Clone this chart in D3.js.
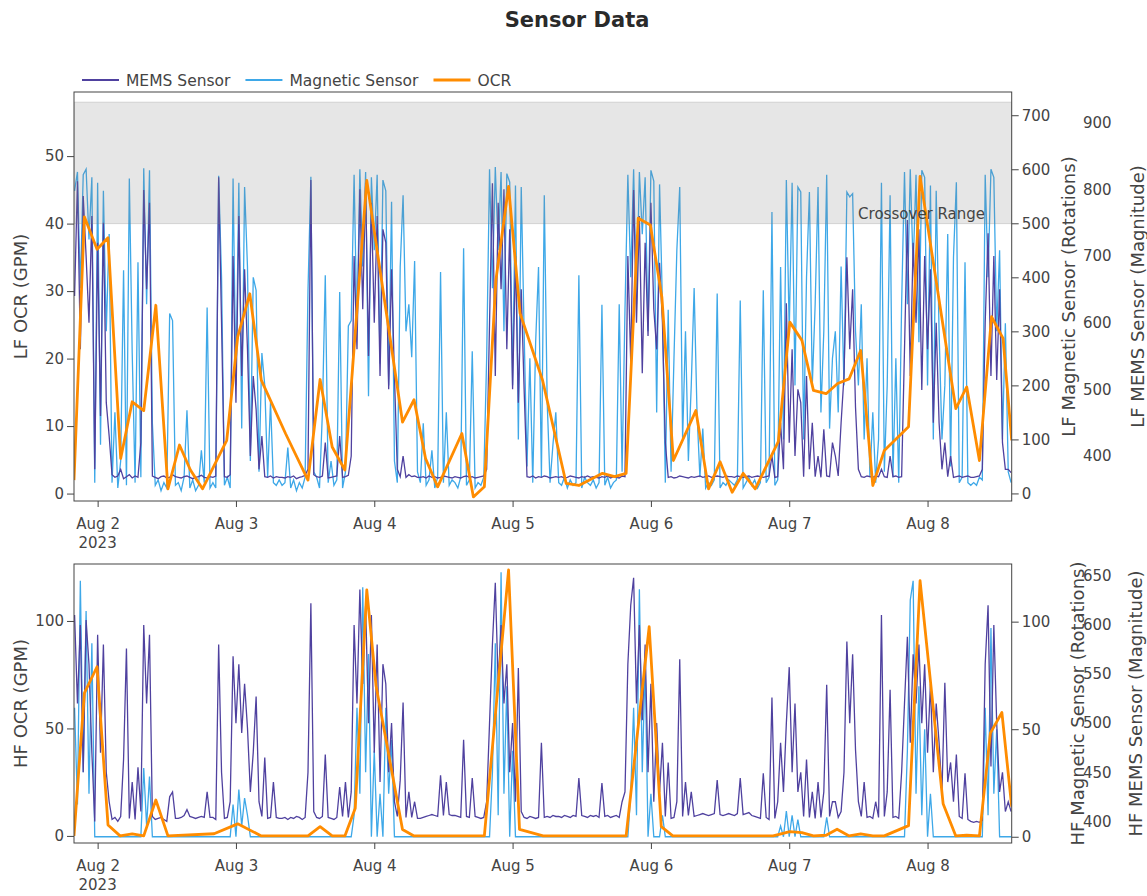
<!DOCTYPE html>
<html>
<head>
<meta charset="utf-8">
<script src="https://cdn.jsdelivr.net/npm/d3@7"></script>
<style>
  body { margin: 0; background: #fff; font-family: "DejaVu Sans", Verdana, sans-serif; }
  text { font-family: "DejaVu Sans", Verdana, sans-serif; }
</style>
</head>
<body>
<svg id="chart" width="1147" height="896"></svg>
<script>
// Sensor samples: every half hour, starting 4 h before Aug 2 00:00
const sensorStartHour = -4;
const sensorStepHours = 0.5;

const lfMagnetic = [
  560,595,380,590,600,470,585,20,575,90,560,300,
  480,20,150,10,60,413,15,583,260,20,428,30,
  602,350,598,130,15,25,5,20,10,333,320,15,
  20,5,30,154,10,25,5,15,80,20,344,10,
  20,10,588,400,15,30,10,583,200,575,120,567,
  419,60,400,376,40,260,200,30,170,20,15,25,
  15,20,85,10,25,5,20,10,30,376,586,40,
  30,10,150,404,20,60,15,25,373,10,40,310,
  320,590,300,600,420,595,180,585,450,590,240,580,
  560,200,540,60,20,419,552,300,350,252,430,40,
  20,130,15,25,80,10,30,410,20,150,15,25,
  20,10,30,454,15,25,263,10,20,15,30,250,
  600,380,604,450,595,300,592,576,200,570,100,567,
  300,50,250,20,280,419,30,552,170,20,90,150,
  20,15,30,10,25,15,20,404,10,30,20,15,
  25,10,20,349,15,30,10,20,25,350,40,340,
  590,400,600,350,595,480,585,300,598,578,150,572,
  350,20,340,40,250,450,567,100,300,60,200,380,
  150,30,120,10,20,15,25,370,10,20,15,25,
  20,15,25,357,10,20,30,15,25,10,20,376,
  20,30,521,15,25,419,100,580,300,575,200,567,
  558,100,400,558,200,350,567,150,300,590,120,250,
  300,150,420,200,558,549,555,300,200,350,100,250,
  30,150,20,100,575,40,200,552,30,250,20,350,
  595,350,600,420,590,280,598,585,200,570,100,560,
  300,100,200,480,50,437,576,20,30,428,20,15,
  20,15,30,25,590,400,600,585,300,450,100,315,
  40,20
];

const lfMems = [
  640,812,560,790,700,600,760,380,720,460,750,480,
  430,372,368,370,380,366,369,372,367,370,368,420,
  799,650,780,370,368,366,369,370,367,368,372,369,
  368,367,369,370,368,366,368,369,371,368,367,369,
  368,370,818,600,369,368,372,700,480,760,520,680,
  560,400,520,470,380,430,369,368,370,367,369,368,
  368,367,369,368,370,366,368,369,371,380,814,372,
  369,368,370,420,367,368,369,370,430,368,369,371,
  400,700,560,800,620,810,550,780,600,760,520,740,
  720,500,680,520,380,369,400,368,372,369,370,368,
  368,369,367,370,368,369,367,368,370,369,368,367,
  369,368,367,369,370,368,369,367,368,369,370,380,
  600,809,520,780,650,800,560,740,500,700,480,650,
  500,369,368,370,367,369,368,370,369,367,368,369,
  368,369,367,368,370,369,368,367,369,368,370,368,
  369,368,367,369,368,370,367,369,368,367,370,369,
  700,540,799,600,760,524,720,580,780,620,560,690,
  600,420,368,369,367,368,370,369,368,367,369,368,
  369,370,368,369,370,368,369,370,369,368,370,369,
  369,368,370,369,368,369,370,368,369,370,369,368,
  369,370,400,368,369,450,380,629,420,560,400,500,
  480,369,520,380,450,369,400,368,440,370,369,420,
  400,370,450,520,698,560,650,473,380,369,368,370,
  369,368,370,369,380,369,368,400,369,370,368,369,
  560,754,520,720,600,740,499,700,560,680,450,600,
  450,380,420,369,400,368,369,370,368,369,370,368,
  368,369,370,380,600,734,520,700,514,650,420,380,
  380,375
];

const hfMagnetic = [
  60,15,119,30,105,20,90,0,0,0,0,0,
  0,0,0,0,0,0,0,0,0,0,0,0,
  32,5,28,0,0,0,0,0,0,0,0,0,
  0,0,0,0,0,0,0,0,0,0,0,0,
  0,0,0,0,0,0,0,15,0,22,5,18,
  10,0,0,0,0,0,0,0,0,0,0,0,
  0,0,0,0,0,0,0,0,0,0,0,0,
  0,0,0,0,0,0,0,0,0,0,0,0,
  0,10,60,20,116,30,85,0,40,0,20,0,
  60,20,45,0,0,0,0,0,0,0,0,0,
  0,0,0,0,0,0,0,0,0,0,0,0,
  0,0,0,0,0,0,0,0,0,0,0,0,
  0,30,90,10,123,20,70,0,40,0,0,0,
  0,0,0,0,0,0,0,0,0,0,0,0,
  0,0,0,0,0,0,0,0,0,0,0,0,
  0,0,0,0,0,0,0,0,0,0,0,0,
  0,20,60,10,115,30,80,0,20,0,0,0,
  10,0,0,0,0,0,0,0,0,0,0,0,
  0,0,0,0,0,0,0,0,0,0,0,0,
  0,0,0,0,0,0,0,0,0,0,0,0,
  0,0,0,0,0,5,0,12,0,10,0,8,
  0,0,0,0,0,0,0,0,0,9,0,0,
  0,0,0,0,0,0,0,0,0,0,0,0,
  0,0,0,0,0,0,0,0,0,0,0,0,
  0,40,110,119,20,70,10,50,0,20,0,0,
  0,0,0,0,0,0,0,0,0,0,0,0,
  0,0,0,0,60,10,97,20,50,0,0,0,
  0,0
];

const hfMems = [
  610,520,600,450,605,560,470,400,590,470,580,450,
  420,402,404,400,405,463,576,403,440,402,455,410,
  600,520,590,405,402,403,404,402,400,425,430,403,
  403,404,406,412,405,404,403,404,405,404,430,404,
  404,402,580,450,403,404,420,568,500,560,490,540,
  495,430,470,527,420,405,465,403,404,440,404,403,
  403,404,402,404,403,405,404,402,404,450,622,410,
  404,403,405,468,404,403,402,404,435,405,440,404,
  430,600,520,636,540,620,500,610,470,580,440,560,
  540,450,500,420,405,442,521,404,430,404,420,403,
  403,404,405,406,407,406,405,447,406,440,407,406,
  406,405,404,483,405,404,444,405,404,403,404,420,
  500,580,643,540,600,520,560,450,500,420,556,410,
  404,403,405,404,403,404,480,404,405,404,406,405,
  405,404,406,405,404,406,405,444,406,405,404,406,
  405,406,404,439,405,406,404,405,406,404,420,430,
  560,620,648,520,600,503,580,450,540,420,500,430,
  480,405,460,403,404,420,565,405,440,406,430,405,
  406,407,408,407,406,407,408,442,407,406,407,408,
  407,406,408,444,407,408,409,406,405,404,403,449,
  404,402,526,403,420,480,430,500,557,450,520,430,
  450,405,463,404,430,403,440,404,430,539,405,420,
  420,404,410,450,583,500,570,473,420,405,440,404,
  405,403,420,404,610,405,430,534,404,405,403,450,
  520,588,480,570,520,580,500,560,470,540,450,520,
  480,430,541,440,460,420,468,405,403,449,402,400,
  399,400,399,401,560,620,456,600,500,430,450,410,
  420,410
];

// OCR readings (hours from Aug 2 00:00)
const lfOcrHours = [-4.1,-2.3,-0.1,1.8,4.0,6.0,8.0,10.1,12.2,14.2,16.1,18.2,22.4,24.3,26.4,28.4,32.6,36.5,38.6,40.7,42.9,46.7,
  52.9,54.9,56.9,59.0,63.2,65.2,67.1,69.1,71.3,73.3,77.2,81.3,83.5,87.6,89.7,91.7,93.8,95.9,97.9,99.9,103.8,
  106.0,108.0,110.1,112.0,114.1,118.1,120.1,122.2,124.2,126.4,128.4,130.4,132.4,134.5,136.5,140.7,142.7,148.9,150.8,153.0,155.1,157.1,158.6];
const lfOcrValues = [2,41.0,36.2,37.9,5.2,13.6,12.3,27.9,0.7,7.2,3.5,0.7,7.9,23.2,29.6,16.8,8.9,2.0,16.9,6.9,3.5,46.4,
  10.6,13.9,5.2,1.0,8.9,-0.5,1.0,31.6,45.5,26.7,16.8,1.5,1.2,3.0,2.5,3.0,40.8,39.8,29.1,4.9,12.3,
  0.7,4.7,0.2,3.0,0.7,7.7,25.4,22.7,15.3,14.8,16.3,17.0,21.2,1.2,6.4,9.9,47.0,12.6,15.8,4.9,26.2,23.0,7.9];

const hfOcrHours = [-4.1,-2.3,-0.1,1.8,3.9,6.0,8.0,10.1,12.2,20.2,24.3,28.4,36.5,38.6,40.7,42.9,44.7,46.7,48.3,52.9,54.9,
  67.1,71.3,73.2,77.3,91.7,95.7,97.8,99.8,117.2,120.1,122.2,124.2,126.4,128.3,130.4,132.4,134.5,136.5,140.7,142.7,146.7,148.9,150.8,153.0,154.9,156.9,158.6];
const hfOcrValues = [0,66.4,78.7,5.1,0,0.9,0,16.7,0,1,5.6,0,0,4.3,0,0,12.9,114.4,70,3,0,
  0,123.7,3,0,0,97.3,4.3,0,0,2.0,1.5,0,0.3,3.1,0,0.9,0,0,4.8,118.7,15,0,0.3,0,47.8,57.4,13.6];

// Axis ticks
const lfOcrTicks = [0, 10, 20, 30, 40, 50];
const lfMagTicks = [0, 100, 200, 300, 400, 500, 600, 700];
const lfMemsTicks = [400, 500, 600, 700, 800, 900];
const hfOcrTicks = [0, 50, 100];
const hfMagTicks = [0, 50, 100];
const hfMemsTicks = [400, 450, 500, 550, 600, 650];

const crossoverRange = [40, 58];

const memsColor = "#4f419f";
const magColor = "#3ea8e8";
const ocrColor = "#ff8c00";
const textColor = "#444";

const base = new Date(2023, 7, 2, 0, 0);
function hourToDate(h) { return new Date(base.getTime() + h * 3600e3); }

function sensorPoints(values) {
  return values.map(function(v, i) {
    return { t: hourToDate(sensorStartHour + i * sensorStepHours), v: v };
  });
}
function ocrPoints(hours, values) {
  return hours.map(function(h, i) { return { t: hourToDate(h), v: values[i] }; });
}

var svg = d3.select("#chart");
var left = 74, right = 1011.7;

var x = d3.scaleTime()
  .domain([hourToDate(-4.1), hourToDate(158.6)])
  .range([left, right]);

// Title
svg.append("text")
  .attr("x", 577).attr("y", 27)
  .attr("text-anchor", "middle")
  .attr("fill", "#2a2a2a")
  .style("font-size", "21px").style("font-weight", "bold")
  .text("Sensor Data");

// Legend
var legendItems = [
  { label: "MEMS Sensor", color: memsColor, width: 2 },
  { label: "Magnetic Sensor", color: magColor, width: 2 },
  { label: "OCR", color: ocrColor, width: 3 }
];
var lx = 82;
legendItems.forEach(function(item) {
  svg.append("line")
    .attr("x1", lx).attr("x2", lx + 37).attr("y1", 80).attr("y2", 80)
    .attr("stroke", item.color).attr("stroke-width", item.width);
  var t = svg.append("text")
    .attr("x", lx + 44).attr("y", 85.5)
    .attr("fill", textColor).style("font-size", "15.5px")
    .text(item.label);
  lx = lx + 44 + t.node().getComputedTextLength() + 15;
});

function drawPanel(p) {
  var yOcr = d3.scaleLinear().domain(p.ocrDomain).range([p.bottom, p.top]);
  var yMag = d3.scaleLinear().domain(p.magDomain).range([p.bottom, p.top]);
  var yMems = d3.scaleLinear().domain(p.memsDomain).range([p.bottom, p.top]);

  svg.append("clipPath").attr("id", p.id)
    .append("rect")
      .attr("x", left).attr("y", p.top)
      .attr("width", right - left).attr("height", p.bottom - p.top);

  var plot = svg.append("g").attr("clip-path", "url(#" + p.id + ")");

  // Magnetic sensor
  plot.append("path")
    .datum(sensorPoints(p.mag))
    .attr("fill", "none")
    .attr("stroke", magColor)
    .attr("stroke-width", 1.3)
    .attr("d", d3.line().x(function(d) { return x(d.t); }).y(function(d) { return yMag(d.v); }));

  // MEMS sensor
  plot.append("path")
    .datum(sensorPoints(p.mems))
    .attr("fill", "none")
    .attr("stroke", memsColor)
    .attr("stroke-width", 1.3)
    .attr("d", d3.line().x(function(d) { return x(d.t); }).y(function(d) { return yMems(d.v); }));

  // Crossover band (top panel only)
  if (p.band) {
    plot.append("rect")
      .attr("x", left).attr("y", yOcr(p.band[1]))
      .attr("width", right - left)
      .attr("height", yOcr(p.band[0]) - yOcr(p.band[1]))
      .attr("fill", "gray").attr("fill-opacity", 0.2)
      .attr("stroke", "gray").attr("stroke-opacity", 0.25);
    svg.append("text")
      .attr("x", 985).attr("y", yOcr(p.band[0]) - 5)
      .attr("text-anchor", "end")
      .attr("fill", textColor).style("font-size", "15px")
      .text("Crossover Range");
  }

  // OCR
  plot.append("path")
    .datum(ocrPoints(p.ocrHours, p.ocrValues))
    .attr("fill", "none")
    .attr("stroke", ocrColor)
    .attr("stroke-width", 2.8)
    .attr("stroke-linejoin", "round")
    .attr("d", d3.line().x(function(d) { return x(d.t); }).y(function(d) { return yOcr(d.v); }));

  // Frame
  svg.append("rect")
    .attr("x", left).attr("y", p.top)
    .attr("width", right - left).attr("height", p.bottom - p.top)
    .attr("fill", "none").attr("stroke", textColor).attr("stroke-width", 1);

  // X axis
  var xAxis = svg.append("g")
    .attr("transform", "translate(0," + p.bottom + ")")
    .call(d3.axisBottom(x).ticks(d3.timeDay.every(1)).tickSize(6).tickPadding(11)
      .tickFormat(d3.timeFormat("%b %-d")));
  xAxis.append("text")
    .attr("x", x(base)).attr("y", 47)
    .attr("text-anchor", "middle").attr("fill", textColor)
    .text("2023");

  // Left OCR axis
  var yl = svg.append("g")
    .attr("transform", "translate(" + left + ",0)")
    .call(d3.axisLeft(yOcr).tickValues(p.ocrTicks).tickSize(7).tickPadding(3));

  // Right magnetic axis
  var yr = svg.append("g")
    .attr("transform", "translate(" + right + ",0)")
    .call(d3.axisRight(yMag).tickValues(p.magTicks).tickSize(7).tickPadding(3));

  // Outer MEMS axis (labels only)
  var ym = svg.append("g")
    .attr("transform", "translate(1083,0)")
    .call(d3.axisRight(yMems).tickValues(p.memsTicks).tickSize(0).tickPadding(0));

  [xAxis, yl, yr, ym].forEach(function(a) {
    a.select(".domain").remove();
    a.selectAll("line").attr("stroke", textColor);
    a.selectAll("text").attr("fill", textColor).style("font-size", "15px")
      .style("font-family", "'DejaVu Sans', Verdana, sans-serif");
  });

  // Axis titles
  var mid = (p.top + p.bottom) / 2;
  [[20, p.ocrTitle], [p.magTitleX, p.magTitle], [p.memsTitleX, p.memsTitle]].forEach(function(tt) {
    svg.append("text")
      .attr("transform", "translate(" + tt[0] + "," + mid + ") rotate(-90)")
      .attr("text-anchor", "middle")
      .attr("dominant-baseline", "central")
      .attr("fill", textColor).style("font-size", "18px")
      .text(tt[1]);
  });
}

drawPanel({
  id: "clipTop", top: 92, bottom: 501,
  ocrDomain: [-1.1, 59.5], magDomain: [-14, 743], memsDomain: [332.5, 946],
  ocrTicks: lfOcrTicks, magTicks: lfMagTicks, memsTicks: lfMemsTicks,
  mag: lfMagnetic, mems: lfMems, ocrHours: lfOcrHours, ocrValues: lfOcrValues,
  band: crossoverRange,
  ocrTitle: "LF OCR (GPM)",
  magTitle: "LF Magnetic Sensor (Rotations)", magTitleX: 1068,
  memsTitle: "LF MEMS Sensor (Magnitude)", memsTitleX: 1137
});

drawPanel({
  id: "clipBottom", top: 564, bottom: 843,
  ocrDomain: [-3.3, 126.5], magDomain: [-2.9, 126.8], memsDomain: [378, 662],
  ocrTicks: hfOcrTicks, magTicks: hfMagTicks, memsTicks: hfMemsTicks,
  mag: hfMagnetic, mems: hfMems, ocrHours: hfOcrHours, ocrValues: hfOcrValues,
  band: null,
  ocrTitle: "HF OCR (GPM)",
  magTitle: "HF Magnetic Sensor (Rotations)", magTitleX: 1077,
  memsTitle: "HF MEMS Sensor (Magnitude)", memsTitleX: 1135
});
</script>
</body>
</html>
